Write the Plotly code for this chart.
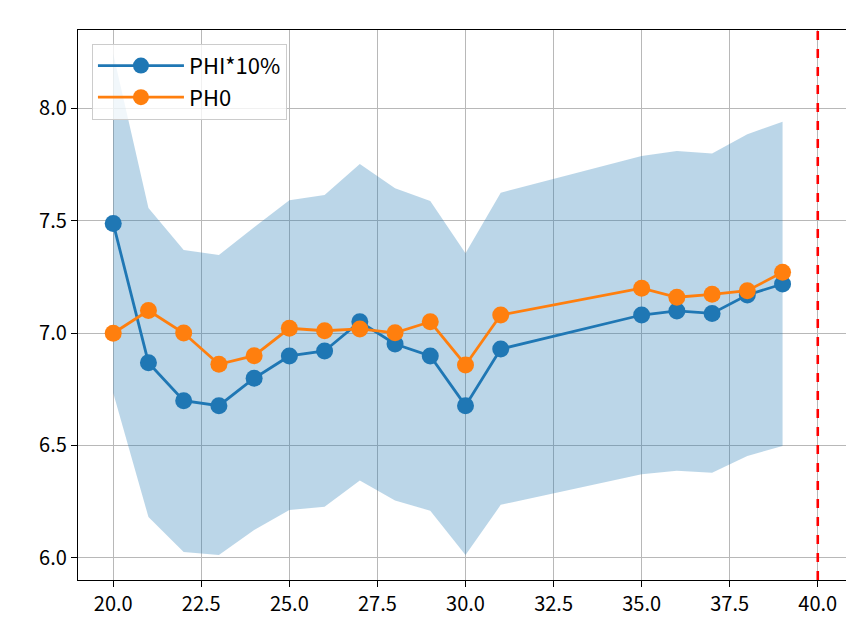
import plotly.graph_objects as go

x_vals = [20, 21, 22, 23, 24, 25, 26, 27, 28, 29, 30, 31, 35, 36, 37, 38, 39]
phi_vals = [7.487, 6.868, 6.699, 6.677, 6.799, 6.898, 6.920, 7.050, 6.951, 6.898,
            6.677, 6.929, 7.080, 7.098, 7.087, 7.169, 7.218]
ph0_vals = [6.999, 7.100, 7.000, 6.861, 6.899, 7.021, 7.010, 7.018, 7.001, 7.050,
            6.858, 7.080, 7.199, 7.159, 7.172, 7.188, 7.270]
band_upper = [8.241, 7.556, 7.369, 7.347, 7.470, 7.590, 7.613, 7.751, 7.643, 7.587,
              7.354, 7.624, 7.787, 7.809, 7.798, 7.884, 7.939]
band_lower = [6.733, 6.182, 6.027, 6.013, 6.124, 6.213, 6.228, 6.344, 6.255, 6.210,
              6.013, 6.236, 6.372, 6.388, 6.379, 6.453, 6.498]
vline_x = 40
x_ticks = [20.0, 22.5, 25.0, 27.5, 30.0, 32.5, 35.0, 37.5, 40.0]
y_ticks = [6.0, 6.5, 7.0, 7.5, 8.0]

FONT = "Noto Sans CJK SC"
BLUE = "#1f77b4"
ORANGE = "#ff7f0e"

fig = go.Figure()
fig.add_trace(go.Scatter(x=x_vals, y=band_lower, mode="lines", line=dict(width=0),
                         showlegend=False, hoverinfo="skip"))
fig.add_trace(go.Scatter(x=x_vals, y=band_upper, mode="lines", line=dict(width=0),
                         fill="tonexty", fillcolor="rgba(31,119,180,0.3)",
                         showlegend=False, hoverinfo="skip"))
fig.add_trace(go.Scatter(x=x_vals, y=phi_vals, mode="lines+markers", name="PHI*10%",
                         legendgroup="a",
                         line=dict(color=BLUE, width=2.8),
                         marker=dict(color=BLUE, size=17)))
fig.add_trace(go.Scatter(x=x_vals, y=ph0_vals, mode="lines+markers", name="PH0",
                         legendgroup="b",
                         line=dict(color=ORANGE, width=2.8),
                         marker=dict(color=ORANGE, size=17)))

fig.add_shape(type="line", x0=vline_x, x1=vline_x, xref="x", y0=0, y1=1, yref="paper",
              line=dict(color="red", width=2.6, dash="dash"))

axis_common = dict(showline=True, linecolor="black", linewidth=1.3, mirror=True,
                   ticks="outside", ticklen=6, tickwidth=1.3, tickcolor="black",
                   showgrid=True, gridcolor="#b8b8b8", gridwidth=1.0, zeroline=False,
                   tickfont=dict(family=FONT, size=20, color="black"))

fig.update_layout(
    width=846, height=626,
    margin=dict(l=70, r=1, t=22, b=54),
    paper_bgcolor="white", plot_bgcolor="white",
    font=dict(family=FONT, size=20, color="black"),
    xaxis=dict(range=[19.0, 41.0], tickvals=x_ticks, tickformat=".1f", **axis_common),
    yaxis=dict(range=[5.902, 8.347], tickvals=y_ticks, tickformat=".1f", **axis_common),
    legend=dict(x=0.018, y=0.975, xanchor="left", yanchor="top",
                traceorder="normal", tracegroupgap=22,
                bgcolor="rgba(255,255,255,0.8)", bordercolor="#cccccc", borderwidth=1,
                font=dict(family=FONT, size=22, color="black"), itemwidth=86),
    showlegend=True,
)

fig.write_html("out.html")
